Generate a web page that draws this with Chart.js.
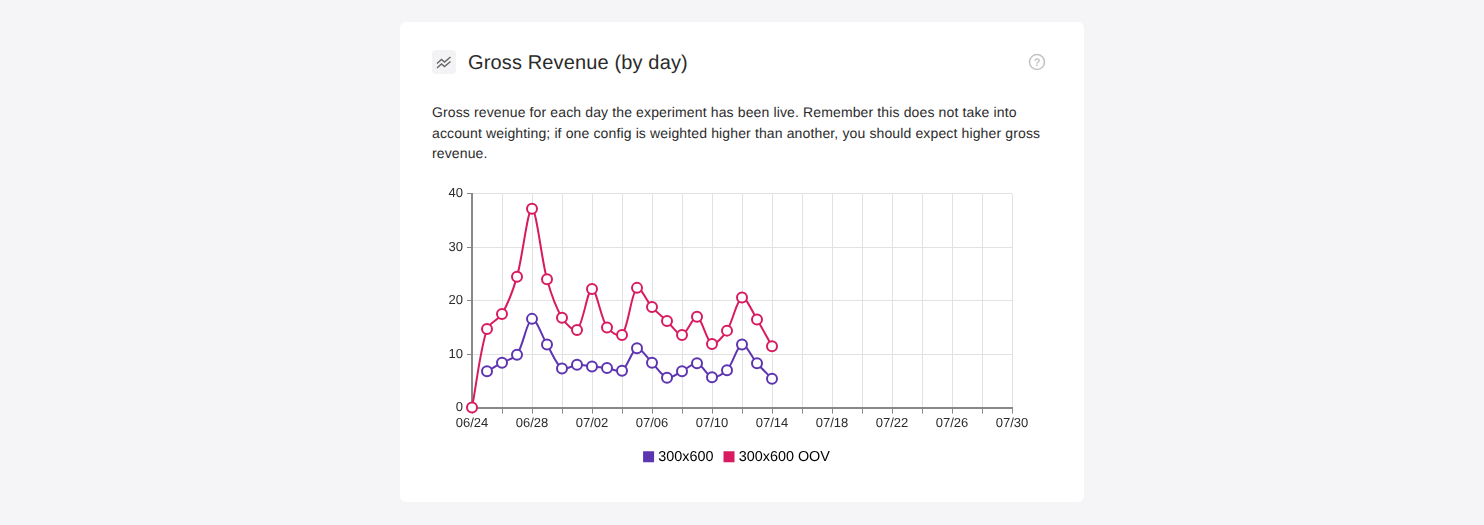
<!DOCTYPE html>
<html>
<head>
<meta charset="utf-8">
<title>Gross Revenue (by day)</title>
<script src="https://cdn.jsdelivr.net/npm/chart.js@4/dist/chart.umd.min.js"></script>
<style>
    html, body { margin: 0; height: 100%; background: #f5f5f7; overflow: hidden; }
    body { font-family: "Liberation Sans", Arial, sans-serif; color: #2b2b2b; text-rendering: geometricPrecision; }
    .card { position: absolute; left: 400px; top: 22px; width: 684px; height: 480px; background: #fff; border-radius: 6px; }
    .icon { position: absolute; left: 32px; top: 28px; width: 24px; height: 24px; background: #f3f3f5; border-radius: 4px; }
    .title { position: absolute; left: 68px; top: 28px; font-size: 20px; line-height: 26px; letter-spacing: 0.14px; white-space: nowrap; }
    .help { position: absolute; left: 628px; top: 31px; width: 18px; height: 18px; }
    .desc { position: absolute; left: 32px; top: 80px; width: 620px; font-size: 14px; line-height: 20.5px; letter-spacing: 0.133px; white-space: nowrap; }
    .chart-box { position: absolute; left: 32px; top: 160px; width: 620px; height: 297px; }
</style>
</head>
<body>
<div class="card">
    <div class="icon">
        <svg width="24" height="24" viewBox="0 0 24 24" fill="none" stroke="#666" stroke-width="1.4">
            <path d="M5 13.5l4.5-4 3 2.5 6-5"/><path d="M5 18l4.5-4 3 2.5 6-5"/>
        </svg>
    </div>
    <div class="title">Gross Revenue (by day)</div>
    <svg class="help" viewBox="0 0 18 18" fill="none">
        <circle cx="9" cy="9" r="7.5" stroke="#c4c4c4" stroke-width="1.6"/>
        <text x="9" y="13" font-size="11" font-weight="bold" fill="#c4c4c4" text-anchor="middle" font-family="Liberation Sans">?</text>
    </svg>
    <div class="desc">Gross revenue for each day the experiment has been live. Remember this does not take into<br>account weighting; if one config is weighted higher than another, you should expect higher gross<br>revenue.</div>
    <div class="chart-box"><canvas id="revenueChart"></canvas></div>
</div>
<script>
const days = ['06/24', '06/25', '06/26', '06/27', '06/28', '06/29', '06/30', '07/01', '07/02', '07/03',
    '07/04', '07/05', '07/06', '07/07', '07/08', '07/09', '07/10', '07/11', '07/12', '07/13', '07/14',
    '07/15', '07/16', '07/17', '07/18', '07/19', '07/20', '07/21', '07/22', '07/23', '07/24', '07/25',
    '07/26', '07/27', '07/28', '07/29', '07/30'];
const revenuePlain = [null, 6.8, 8.4, 9.9, 16.6, 11.8, 7.3, 8.0, 7.7, 7.4, 6.9, 11.1, 8.4, 5.6, 6.8, 8.3, 5.7, 7.0, 11.8, 8.3, 5.4];
const revenueOov = [0, 14.7, 17.5, 24.5, 37.2, 24.0, 16.8, 14.5, 22.2, 15.0, 13.6, 22.4, 18.8, 16.2, 13.6, 17.0, 11.9, 14.4, 20.6, 16.5, 11.5];
const seriesNames = ['300x600', '300x600 OOV'];
const yTicks = [0, 10, 20, 30, 40];

const PURPLE = '#5e35b1';
const RED = '#d81b60';
const FONT = { family: '"Liberation Sans", Arial, sans-serif', size: 13 };

function lineSet(label, data, color) {
    return {
        label: label,
        data: data,
        borderColor: color,
        backgroundColor: color,
        borderWidth: 2,
        tension: 0.3,
        clip: false,
        pointRadius: 5,
        pointBorderWidth: 2,
        pointBackgroundColor: '#fff',
        pointBorderColor: color,
    };
}

// legend sits off the plot centre in the original
const shiftLegend = {
    id: 'shiftLegend',
    afterLayout(chart) {
        chart.legend.left += 16;
        chart.legend.right += 16;
        chart.legend.top -= 5;
        chart.legend.bottom -= 5;
    },
    beforeDraw(chart) {
        chart.ctx.textRendering = 'geometricPrecision';
    },
};

new Chart(document.getElementById('revenueChart'), {
    type: 'line',
    data: {
        labels: days,
        datasets: [lineSet(seriesNames[0], revenuePlain, PURPLE), lineSet(seriesNames[1], revenueOov, RED)],
    },
    plugins: [shiftLegend],
    options: {
        responsive: true,
        maintainAspectRatio: false,
        animation: false,
        layout: { padding: { top: 8, right: 40, left: 0, bottom: 0 } },
        plugins: {
            tooltip: { enabled: false },
            legend: {
                position: 'bottom',
                onClick: null,
                labels: {
                    color: '#2b2b2b',
                    font: { family: FONT.family, size: 14.4 },
                    usePointStyle: true,
                    pointStyle: 'rect',
                    boxWidth: 5,
                    boxHeight: 11,
                    padding: 13,
                    generateLabels(chart) {
                        return chart.data.datasets.map((ds, i) => ({
                            text: ds.label,
                            fillStyle: ds.borderColor,
                            strokeStyle: ds.borderColor,
                            lineWidth: 0,
                            pointStyle: 'rect',
                            datasetIndex: i,
                        }));
                    },
                },
            },
        },
        scales: {
            x: {
                offset: false,
                afterFit(scale) { scale.height = 34; },
                border: { color: '#888', width: 2 },
                grid: {
                    color: (ctx) => (ctx.index % 2 === 0 ? '#e2e2e2' : 'transparent'),
                    tickColor: (ctx) => (ctx.index % 2 === 0 ? '#888' : 'transparent'),
                    tickLength: 6,
                    lineWidth: 1,
                },
                ticks: {
                    autoSkip: false,
                    maxRotation: 0,
                    color: '#2b2b2b',
                    font: FONT,
                    padding: 2,
                    callback: (v, i) => (i % 4 === 0 ? days[i] : ''),
                },
            },
            y: {
                min: yTicks[0],
                max: yTicks[yTicks.length - 1],
                afterFit(scale) { scale.width = 40; },
                afterBuildTicks(scale) { scale.ticks = yTicks.map((v) => ({ value: v })); },
                border: { color: '#888', width: 2 },
                grid: { color: '#e2e2e2', tickColor: '#888', tickLength: 5, lineWidth: 1 },
                ticks: { color: '#2b2b2b', font: FONT, padding: 4 },
            },
        },
    },
});
</script>
</body>
</html>
